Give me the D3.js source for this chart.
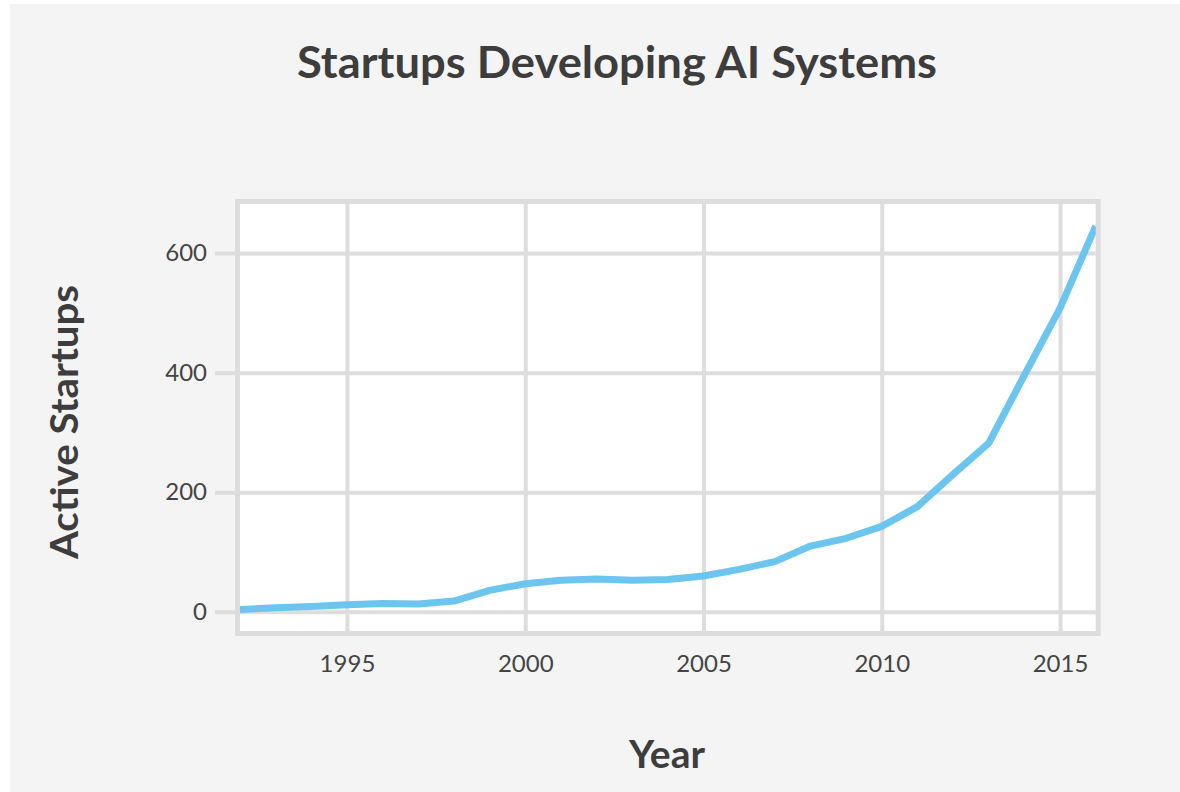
<!DOCTYPE html>
<html>
<head>
<meta charset="utf-8">
<script src="https://cdn.jsdelivr.net/npm/d3@7/dist/d3.min.js"></script>
<style>
  html, body { margin: 0; padding: 0; background: #ffffff; }
  svg { display: block; }
</style>
</head>
<body>
<script>
// Active AI startups per year
const years = [1992, 1993, 1994, 1995, 1996, 1997, 1998, 1999, 2000, 2001, 2002, 2003,
               2004, 2005, 2006, 2007, 2008, 2009, 2010, 2011, 2012, 2013, 2014, 2015, 2016];
const activeStartups = [4, 7, 9, 12, 14, 13, 18, 36, 47, 53, 55, 53,
                        54, 60, 71, 84, 110, 123, 143, 176, 230, 282, 396, 508, 645];
const xTicks = [1995, 2000, 2005, 2010, 2015];
const yTicks = [0, 200, 400, 600];
const titleText = "Startups Developing AI Systems";
const xLabelText = "Year";
const yLabelText = "Active Startups";

const W = 1180, H = 792;
const plot = { left: 240, right: 1095.7, top: 204, bottom: 631 };
const textColor = "#444444";
const gridColor = "#dddddd";
const fontFamily = "Lato, 'Open Sans', sans-serif";

const svg = d3.select("body").append("svg")
  .attr("width", W).attr("height", H);

// page background panel
svg.append("rect")
  .attr("x", 10).attr("y", 4)
  .attr("width", W - 10).attr("height", H - 4)
  .attr("fill", "#f4f4f4");

// plot background
svg.append("rect")
  .attr("x", plot.left).attr("y", plot.top)
  .attr("width", plot.right - plot.left).attr("height", plot.bottom - plot.top)
  .attr("fill", "#ffffff");

const x = d3.scaleLinear().domain([1992, 2016]).range([plot.left, plot.right]);
const y = d3.scaleLinear().domain([-32, 682]).range([plot.bottom, plot.top]);

// vertical grid + x tick labels
const xAxis = svg.append("g")
  .attr("transform", `translate(0,${plot.bottom})`)
  .call(d3.axisBottom(x).tickValues(xTicks).tickFormat(d3.format("d"))
    .tickSize(-(plot.bottom - plot.top)).tickPadding(24));
xAxis.select(".domain").remove();
xAxis.selectAll(".tick line").attr("stroke", gridColor).attr("stroke-width", 4);
xAxis.selectAll(".tick text")
  .attr("fill", textColor).attr("font-family", fontFamily)
  .attr("font-size", 24);

// horizontal grid (extending left as ticks) + y tick labels
const tickLen = 25;
const yAxis = svg.append("g")
  .attr("transform", `translate(${plot.left - tickLen},0)`)
  .call(d3.axisLeft(y).tickValues(yTicks)
    .tickSize(-(plot.right - plot.left + tickLen)).tickPadding(8));
yAxis.select(".domain").remove();
yAxis.selectAll(".tick line").attr("stroke", gridColor).attr("stroke-width", 4);
yAxis.selectAll(".tick text")
  .attr("fill", textColor).attr("font-family", fontFamily)
  .attr("font-size", 24);

// data line
const line = d3.line()
  .x((d, i) => x(years[i]))
  .y(d => y(d));

svg.append("path")
  .datum(activeStartups)
  .attr("d", line)
  .attr("fill", "none")
  .attr("stroke", "#6bc5ee")
  .attr("stroke-width", 7)
  .attr("stroke-linejoin", "round");

// plot frame
svg.append("rect")
  .attr("x", plot.left - 2.5).attr("y", plot.top - 2.5)
  .attr("width", plot.right - plot.left + 5).attr("height", plot.bottom - plot.top + 5)
  .attr("fill", "none")
  .attr("stroke", gridColor)
  .attr("stroke-width", 5);

// titles
svg.append("text")
  .attr("x", 617).attr("y", 78)
  .attr("text-anchor", "middle")
  .attr("font-family", fontFamily).attr("font-weight", 700)
  .attr("font-size", 43).attr("fill", "#3d3d3d")
  .attr("textLength", 640).attr("lengthAdjust", "spacingAndGlyphs")
  .text(titleText);

svg.append("text")
  .attr("x", 667).attr("y", 768)
  .attr("text-anchor", "middle")
  .attr("font-family", fontFamily).attr("font-weight", 700)
  .attr("font-size", 38).attr("fill", "#3d3d3d")
  .attr("textLength", 76).attr("lengthAdjust", "spacingAndGlyphs")
  .text(xLabelText);

svg.append("text")
  .attr("transform", "translate(78,422) rotate(-90)")
  .attr("text-anchor", "middle")
  .attr("font-family", fontFamily).attr("font-weight", 700)
  .attr("font-size", 38).attr("fill", "#3d3d3d")
  .attr("textLength", 274).attr("lengthAdjust", "spacingAndGlyphs")
  .text(yLabelText);
</script>
</body>
</html>
